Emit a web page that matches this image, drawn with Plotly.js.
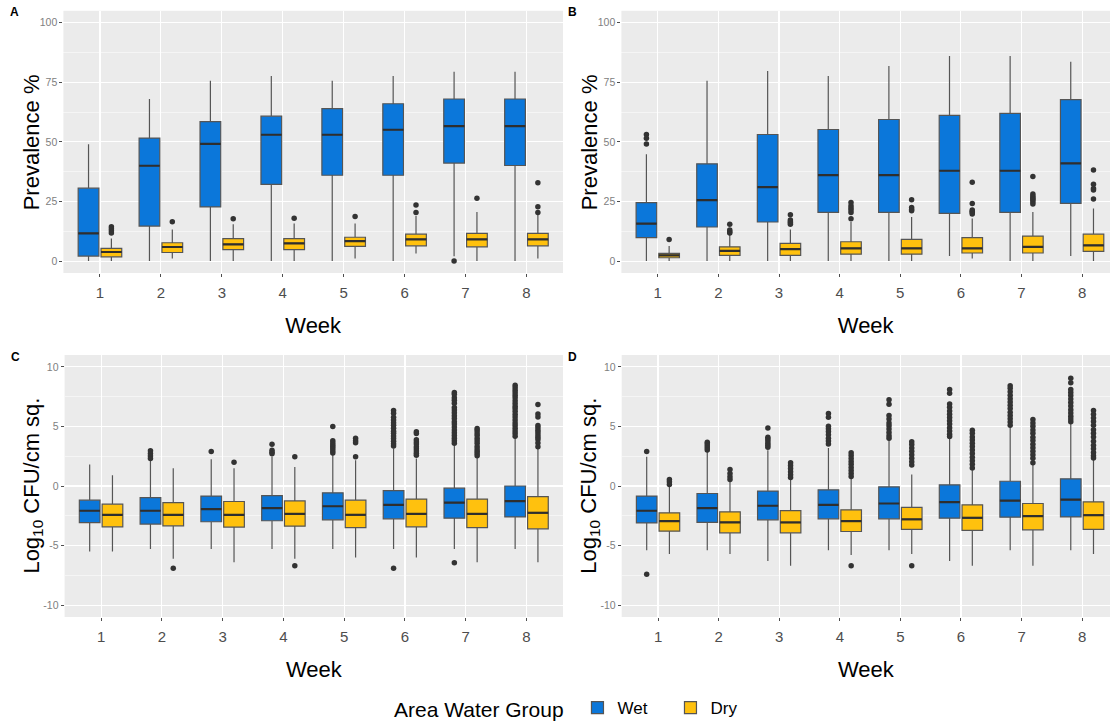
<!DOCTYPE html>
<html>
<head>
<meta charset="utf-8">
<script src="https://cdn.plot.ly/plotly-3.0.1.min.js"></script>
<style>html,body{margin:0;padding:0;background:#fff}#chart{width:1110px;height:728px}</style>
</head>
<body>
<div id="chart"></div>
<script>
const weeks = [1, 2, 3, 4, 5, 6, 7, 8];
const weekLabels = ['1', '2', '3', '4', '5', '6', '7', '8'];
const groupNames = ['Wet', 'Dry'];

// Panel A: Prevalence %
const aWetLow = [0, 0, 0, 0, 0, 0, 2, 0];
const aWetQ1 = [2.1, 14.7, 22.7, 32.2, 36, 36, 41.1, 40.1];
const aWetMed = [11.6, 40, 49.2, 53, 53, 55.1, 56.6, 56.6];
const aWetQ3 = [30.6, 51.6, 58.5, 60.8, 64, 66, 68, 68];
const aWetHigh = [49, 68, 75.7, 77.6, 75.7, 77.6, 79.4, 79.4];
const aWetOut = [[], [], [], [], [], [], [0], []];
const aDryLow = [0, 1.1, 0, 0, 1.1, 3.2, 0, 1.1];
const aDryQ1 = [1.8, 3.6, 4.8, 4.8, 6.2, 6.4, 6, 6.4];
const aDryMed = [3.8, 5.9, 7, 7.4, 8.4, 9.1, 9.1, 9.1];
const aDryQ3 = [5.3, 7.7, 9.4, 9.4, 10, 11.3, 11.6, 11.6];
const aDryHigh = [9.5, 13.3, 15.4, 15.8, 15.8, 18.9, 20.6, 20];
const aDryOut = [[14.4, 13.6, 12.7, 11.8], [16.5], [17.8], [18], [18.7], [23.5, 20.4], [26.4], [32.9, 22.8, 20.4]];

// Panel B: Prevalence %
const bWetLow = [0, 0, 0, 0, 0, 2.1, 0, 2.1];
const bWetQ1 = [9.8, 14.3, 16.4, 20.4, 20.4, 20, 20.4, 24.2];
const bWetMed = [15.7, 25.6, 31, 36.1, 36.1, 37.9, 37.9, 41];
const bWetQ3 = [24.5, 40.8, 53.1, 55.2, 59.4, 61.1, 62, 67.7];
const bWetHigh = [44.8, 75.7, 79.7, 77.6, 81.8, 86, 86, 83.6];
const bWetOut = [[53.1, 51.5, 49.1], [], [], [], [], [], [], []];
const bDryLow = [0, 0, 0, 0, 0, 1.1, 0, 0];
const bDryQ1 = [1.4, 2.4, 2.4, 2.9, 2.9, 3.4, 3.4, 4.1];
const bDryMed = [2.4, 4.3, 5, 5.3, 5.3, 5.3, 6, 6.6];
const bDryQ3 = [3.2, 6, 7.4, 8.1, 9.1, 9.8, 10.5, 11.3];
const bDryHigh = [6.3, 10.9, 13.3, 16.4, 18.5, 17.9, 20.6, 22.1];
const bDryOut = [[9.1], [15.4, 13, 12.3, 11.8], [19.4, 17.2, 16.5, 16.1, 15.4], [24.6, 23.2, 22.3, 21.4, 20.4, 17.8],
  [25.7, 22.5, 21.6, 21.1], [33.1, 24.2, 21.4, 20.9, 20.4, 19.8], [35.5, 28.1, 27.3, 26.7, 26, 25.6, 24.8, 23.9],
  [38.2, 32.2, 30.5, 29.8, 26]];

// Panel C: Log10 CFU/cm sq.
const cWetLow = [-5.5, -5.3, -5.3, -5.3, -5.3, -5.3, -5.3, -5.3];
const cWetQ1 = [-3.08, -3.2, -3.0, -2.92, -2.84, -2.76, -2.7, -2.6];
const cWetMed = [-2.08, -2.08, -1.94, -1.86, -1.7, -1.58, -1.4, -1.27];
const cWetQ3 = [-1.19, -0.97, -0.85, -0.8, -0.57, -0.38, -0.18, 0];
const cWetHigh = [1.8, 2.17, 2.25, 2.45, 2.6, 3.15, 3.4, 4.0];
const cWetOut = [[], [2.95, 2.73, 2.52, 2.31], [2.9], [3.5, 3.0, 2.83, 2.7],
  [5.0, 3.8, 3.62, 3.45, 3.3, 3.12, 2.93, 2.78],
  [6.35, 6.1, 5.78, 5.55, 5.32, 5.1, 4.85, 4.6, 4.42, 4.2, 3.98, 3.75, 3.55, 3.36, -6.9],
  [7.85, 7.7, 7.42, 7.2, 6.95, 6.6, 6.38, 6.15, 5.9, 5.66, 5.4, 5.2, 4.95, 4.7, 4.48, 4.25, 4.02, 3.8, 3.58, -6.45],
  [8.45, 8.26, 8.05, 7.83, 7.61, 7.4, 7.15, 6.92, 6.7, 6.5, 6.27, 6.02, 5.8, 5.55, 5.3, 5.08, 4.85, 4.62, 4.4, 4.18]];
const cDryLow = [-5.5, -6.1, -6.4, -6.1, -6.0, -6.0, -6.4, -6.4];
const cDryQ1 = [-3.43, -3.34, -3.45, -3.37, -3.5, -3.43, -3.5, -3.6];
const cDryMed = [-2.42, -2.42, -2.42, -2.34, -2.42, -2.34, -2.34, -2.25];
const cDryQ3 = [-1.53, -1.4, -1.3, -1.25, -1.19, -1.1, -1.1, -0.9];
const cDryHigh = [0.9, 1.5, 1.5, 1.6, 2.17, 2.3, 2.4, 3.15];
const cDryOut = [[], [-6.9], [2.0], [2.45, -6.7], [4.02, 3.8, 3.63, 2.45],
  [4.55, 4.4, 3.88, 3.7, 3.52, 3.3, 3.12, 2.93, 2.75, 2.58],
  [4.82, 4.65, 4.45, 4.27, 4.02, 3.8, 3.58, 3.32, 3.1, 2.92, 2.72, 2.55],
  [6.85, 6.05, 5.8, 5.08, 4.9, 4.68, 4.5, 4.28, 4.1, 3.9, 3.62, 3.3]];

// Panel D: Log10 CFU/cm sq.
const dWetLow = [-5.4, -5.4, -6.3, -5.4, -5.4, -6.3, -5.4, -5.4];
const dWetQ1 = [-3.1, -3.06, -2.84, -2.76, -2.76, -2.7, -2.62, -2.6];
const dWetMed = [-2.08, -1.86, -1.66, -1.58, -1.47, -1.36, -1.22, -1.15];
const dWetQ3 = [-0.85, -0.63, -0.43, -0.32, -0.07, 0.1, 0.4, 0.6];
const dWetHigh = [2.45, 2.87, 3.0, 3.2, 3.9, 4.1, 4.97, 5.25];
const dWetOut = [[2.9, -7.4], [3.68, 3.52, 3.36, 3.2, 3.02], [4.88, 4.1, 3.94, 3.78, 3.6, 3.42, 3.25],
  [6.08, 5.78, 5.02, 4.8, 4.58, 4.3, 4.02, 3.78, 3.52],
  [7.25, 6.86, 5.92, 5.62, 5.3, 5.05, 4.78, 4.5, 4.22, 4.02],
  [8.1, 7.78, 6.88, 6.62, 6.3, 6.02, 5.75, 5.48, 5.2, 4.9, 4.62, 4.35, 4.15],
  [8.42, 8.2, 7.92, 7.63, 7.32, 7.05, 6.78, 6.5, 6.2, 5.92, 5.65, 5.38, 5.1],
  [9.05, 8.66, 8.1, 7.86, 7.6, 7.3, 7.02, 6.72, 6.4, 6.12, 5.86, 5.62, 5.4]];
const dDryLow = [-5.7, -5.7, -6.7, -5.8, -5.7, -6.7, -6.7, -5.7];
const dDryQ1 = [-3.79, -3.93, -3.93, -3.82, -3.64, -3.73, -3.68, -3.64];
const dDryMed = [-2.95, -3.06, -3.06, -2.95, -2.8, -2.67, -2.53, -2.45];
const dDryQ3 = [-2.25, -2.17, -2.06, -2.0, -1.8, -1.58, -1.47, -1.33];
const dDryHigh = [-0.07, 0.35, 0.63, 0.66, 0.97, 1.33, 1.84, 2.2];
const dDryOut = [[0.55, 0.35, 0.13], [1.38, 1.05, 0.77, 0.55], [1.95, 1.72, 1.46, 1.2, 0.95, 0.72],
  [2.8, 2.56, 2.3, 2.06, 1.82, 1.55, 1.3, 1.05, 0.8, -6.7],
  [3.72, 3.48, 3.2, 2.92, 2.62, 2.32, 2.04, 1.76, -6.7],
  [4.68, 4.42, 4.12, 3.86, 3.58, 3.32, 3.02, 2.72, 2.42, 2.12, 1.82, 1.52],
  [5.58, 5.3, 5.02, 4.7, 4.42, 4.1, 3.82, 3.5, 3.22, 2.92, 2.62, 2.32, 1.95],
  [6.35, 6.02, 5.72, 5.42, 5.1, 4.72, 4.42, 4.12, 3.76, 3.42, 3.12, 2.82, 2.55, 2.35]];

const yTicksPrev = [0, 25, 50, 75, 100];
const yTickTextPrev = ['0', '25', '50', '75', '100'];
const yTicksLog = [-10, -5, 0, 5, 10];
const yTickTextLog = ['-10', '-5', '0', '5', '10'];
const titlePrev = 'Prevalence %';
const titleLog = 'Log<sub>10</sub> CFU/cm sq.';
const titleWeek = 'Week';
const legendTitle = 'Area Water Group';
const panelLetters = ['A', 'B', 'C', 'D'];

const WET = '#0b77da', DRY = '#ffc10e';
const DODGE = 0.1875, BOXW = 0.34;

const traces = [];
function addPanel(xa, ya, wet, dry, legend) {
  const groups = [[wet, WET, -DODGE, groupNames[0]], [dry, DRY, DODGE, groupNames[1]]];
  groups.forEach(([s, col, off, name]) => {
    const pos = weeks.map(w => w + off);
    traces.push({
      type: 'box', name: name, legendgroup: name, showlegend: legend,
      xaxis: xa, yaxis: ya, x: pos,
      lowerfence: s[0], q1: s[1], median: s[2], q3: s[3], upperfence: s[4],
      width: BOXW, whiskerwidth: 0, boxpoints: false,
      fillcolor: col, line: { color: '#555555', width: 1.2 }, hoverinfo: 'skip'
    });
    // thicker median bar, as ggplot draws it
    const mx = [], my = [];
    pos.forEach((p, i) => { mx.push(p - BOXW / 2, p + BOXW / 2, null); my.push(s[2][i], s[2][i], null); });
    traces.push({
      type: 'scatter', mode: 'lines', x: mx, y: my, xaxis: xa, yaxis: ya,
      showlegend: false, hoverinfo: 'skip', line: { color: '#2e2e2e', width: 2.2 }
    });
    const ox = [], oy = [];
    s[5].forEach((arr, i) => arr.forEach(v => { ox.push(pos[i]); oy.push(v); }));
    traces.push({
      type: 'scatter', mode: 'markers', x: ox, y: oy, xaxis: xa, yaxis: ya,
      showlegend: false, legendgroup: name, hoverinfo: 'skip',
      marker: { color: '#333333', size: 5.5 }
    });
  });
}
addPanel('x', 'y', [aWetLow, aWetQ1, aWetMed, aWetQ3, aWetHigh, aWetOut], [aDryLow, aDryQ1, aDryMed, aDryQ3, aDryHigh, aDryOut], true);
addPanel('x2', 'y2', [bWetLow, bWetQ1, bWetMed, bWetQ3, bWetHigh, bWetOut], [bDryLow, bDryQ1, bDryMed, bDryQ3, bDryHigh, bDryOut], false);
addPanel('x3', 'y3', [cWetLow, cWetQ1, cWetMed, cWetQ3, cWetHigh, cWetOut], [cDryLow, cDryQ1, cDryMed, cDryQ3, cDryHigh, cDryOut], false);
addPanel('x4', 'y4', [dWetLow, dWetQ1, dWetMed, dWetQ3, dWetHigh, dWetOut], [dDryLow, dDryQ1, dDryMed, dDryQ3, dDryHigh, dDryOut], false);

const W = 1110, H = 728;
function xax(left, right, range, anchor) {
  return {
    domain: [left / W, right / W], range: range, anchor: anchor,
    tickmode: 'array', tickvals: weeks, ticktext: weekLabels,
    showgrid: true, gridcolor: '#ffffff', gridwidth: 1.1, zeroline: false, showline: false,
    ticks: 'outside', ticklen: 3, tickwidth: 1, tickcolor: '#4d4d4d', ticklabelstandoff: 3,
    tickfont: { size: 15, color: '#4d4d4d' },
    title: { text: titleWeek, font: { size: 22, color: '#000' }, standoff: 17 }
  };
}
function yax(top, bottom, range, tv, tt, minorStart, minorStep, anchor) {
  return {
    domain: [(H - bottom) / H, (H - top) / H], range: range, anchor: anchor,
    tickmode: 'array', tickvals: tv, ticktext: tt,
    showgrid: true, gridcolor: '#ffffff', gridwidth: 1.1, zeroline: false, showline: false,
    minor: { tickmode: 'linear', tick0: minorStart, dtick: minorStep, showgrid: true, gridcolor: '#ffffff', gridwidth: 0.5, ticks: '' },
    ticks: 'outside', ticklen: 3, tickwidth: 1, tickcolor: '#4d4d4d',
    tickfont: { size: 10.5, color: '#808080' }
  };
}

const panels = [
  { l: 63.4, top: 10.8, bottom: 273, title: titlePrev },
  { l: 621.4, top: 10.8, bottom: 273, title: titlePrev },
  { l: 64.6, top: 355, bottom: 617, title: titleLog },
  { l: 621.7, top: 355, bottom: 617, title: titleLog }
];
const annotations = [];
panels.forEach((p, i) => {
  annotations.push({
    text: '<b>' + panelLetters[i] + '</b>', xref: 'paper', yref: 'paper',
    x: (p.l - 49) / W, y: (H - p.top - 1.5) / H, xanchor: 'center', yanchor: 'middle',
    showarrow: false, font: { size: 12, color: '#000' }
  });
  annotations.push({
    text: p.title, xref: 'paper', yref: 'paper', textangle: -90,
    x: (p.l - 32) / W, y: (H - (p.top + p.bottom) / 2) / H, xanchor: 'center', yanchor: 'middle',
    showarrow: false, font: { size: 22, color: '#000' }
  });
});

const layout = {
  width: W, height: H, margin: { l: 0, r: 0, t: 0, b: 0 },
  paper_bgcolor: '#ffffff', plot_bgcolor: '#ebebeb',
  font: { family: 'Liberation Sans, Arial, sans-serif', color: '#000' },
  boxmode: 'overlay', hovermode: false,
  xaxis: xax(63.4, 563, [0.4, 8.6], 'y'),
  xaxis2: xax(621.4, 1110, [0.4, 8.46], 'y2'),
  xaxis3: xax(64.6, 563, [0.4, 8.6], 'y3'),
  xaxis4: xax(621.7, 1110, [0.4, 8.46], 'y4'),
  yaxis: yax(10.8, 273, [-5, 105], yTicksPrev, yTickTextPrev, 12.5, 25, 'x'),
  yaxis2: yax(10.8, 273, [-5, 105], yTicksPrev, yTickTextPrev, 12.5, 25, 'x2'),
  yaxis3: yax(355, 617, [-11, 11], yTicksLog, yTickTextLog, -7.5, 5, 'x3'),
  yaxis4: yax(355, 617, [-11, 11], yTicksLog, yTickTextLog, -7.5, 5, 'x4'),
  legend: {
    orientation: 'h', x: 392 / W, xanchor: 'left', y: 0, yanchor: 'bottom',
    title: { text: legendTitle + '&nbsp;', font: { size: 21, color: '#000' }, side: 'left' },
    font: { size: 17, color: '#000' }, bgcolor: 'rgba(0,0,0,0)',
    entrywidth: 48, entrywidthmode: 'pixels'
  },
  annotations: annotations
};

Plotly.newPlot('chart', traces, layout, { displayModeBar: false, staticPlot: true });
</script>
</body>
</html>
